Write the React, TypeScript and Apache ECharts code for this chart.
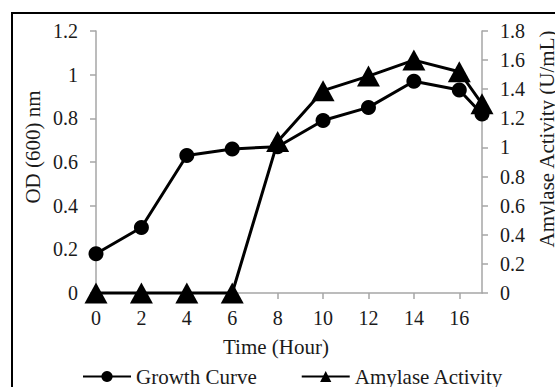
import React, { useEffect, useRef } from "react";
import * as echarts from "echarts";

const hours = [0, 2, 4, 6, 8, 10, 12, 14, 16, 17];
const growthOD = [0.18, 0.3, 0.63, 0.66, 0.67, 0.79, 0.85, 0.97, 0.93, 0.82];
const amylase = [0, 0, 0, 0, 1.04, 1.39, 1.49, 1.6, 1.52, 1.3];
const seriesNames = ["Growth Curve", "Amylase Activity"];
const axisTitles = { x: "Time (Hour)", left: "OD (600) nm", right: "Amylase Activity (U/mL)" };

const FONT = "'Liberation Serif', 'Times New Roman', serif";
const TEXT = "#1a1a1a";
const AXIS = "#a6a6a6";

export default function App() {
  const ref = useRef<HTMLDivElement>(null);
  useEffect(() => {
    if (!ref.current) return;
    const chart = echarts.init(ref.current, undefined, { renderer: "svg" });
    const label = { color: TEXT, fontFamily: FONT, fontSize: 20 };
    chart.setOption({
      animation: false,
      backgroundColor: "#fff",
      grid: { left: 96, right: 73, top: 31, bottom: 94, containLabel: false },
      legend: {
        data: seriesNames,
        left: 77,
        top: 361,
        itemWidth: 48,
        itemHeight: 14,
        itemGap: 44,
        textStyle: { color: TEXT, fontFamily: FONT, fontSize: 21 },
      },
      xAxis: {
        type: "value",
        min: 0,
        max: 17,
        interval: 2,
        axisLine: { show: true, lineStyle: { color: AXIS, width: 1.5 } },
        axisTick: { show: true, length: 6, lineStyle: { color: AXIS, width: 1.5 } },
        axisLabel: { ...label, margin: 15, showMaxLabel: false },
        splitLine: { show: false },
      },
      yAxis: [
        {
          type: "value",
          min: 0,
          max: 1.2,
          interval: 0.2,
          axisLine: { show: true, lineStyle: { color: AXIS, width: 1.5 } },
          axisTick: { show: true, length: 6, lineStyle: { color: AXIS, width: 1.5 } },
          axisLabel: { ...label, margin: 18 },
          splitLine: { show: false },
        },
        {
          type: "value",
          min: 0,
          max: 1.8,
          interval: 0.2,
          position: "right",
          axisLine: { show: true, lineStyle: { color: AXIS, width: 1.5 } },
          axisTick: { show: true, length: 6, lineStyle: { color: AXIS, width: 1.5 } },
          axisLabel: { ...label, margin: 18 },
          splitLine: { show: false },
        },
      ],
      series: [
        {
          name: seriesNames[0],
          type: "line",
          yAxisIndex: 0,
          data: hours.map((h, i) => [h, growthOD[i]]),
          symbol: "circle",
          symbolSize: 15,
          clip: false,
          z: 3,
          lineStyle: { color: "#000", width: 3 },
          itemStyle: { color: "#000" },
        },
        {
          name: seriesNames[1],
          type: "line",
          yAxisIndex: 1,
          data: hours.map((h, i) => [h, amylase[i]]),
          symbol: "triangle",
          symbolSize: [23, 21],
          clip: false,
          z: 2,
          lineStyle: { color: "#000", width: 3 },
          itemStyle: { color: "#000" },
        },
      ],
      graphic: [
        {
          type: "rect",
          shape: { x: 12, y: 13, width: 600, height: 420 },
          style: { fill: "none", stroke: "#000", lineWidth: 2 },
          silent: true,
        },
        {
          type: "text",
          x: 276,
          y: 347,
          style: { text: axisTitles.x, fill: TEXT, font: `21px ${FONT}`, align: "center", verticalAlign: "middle" },
        },
        {
          type: "text",
          x: 33,
          y: 147,
          rotation: Math.PI / 2,
          style: { text: axisTitles.left, fill: TEXT, font: `21px ${FONT}`, align: "center", verticalAlign: "middle" },
        },
        {
          type: "text",
          x: 547,
          y: 139,
          rotation: Math.PI / 2,
          style: { text: axisTitles.right, fill: TEXT, font: `21px ${FONT}`, align: "center", verticalAlign: "middle" },
        },
      ],
    });
    return () => chart.dispose();
  }, []);
  return <div ref={ref} style={{ position: "fixed", left: 0, top: 0, width: 555, height: 387 }} />;
}
